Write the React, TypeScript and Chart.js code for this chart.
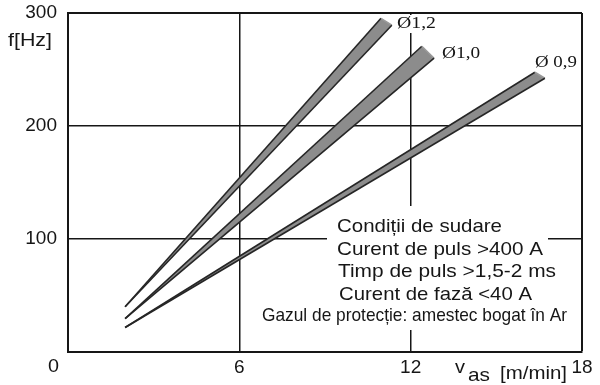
import React, { useEffect, useRef } from 'react';
import { Chart, registerables } from 'chart.js';

Chart.register(...registerables);

// ---- data ----
const bandNames = ['Ø1,2', 'Ø1,0', 'Ø 0,9'];
const startSpeed = [2.0, 2.0, 2.0];
const startFreq = [40.0, 29.6, 21.7];
const upperEndSpeed = [10.96, 12.39, 16.35];
const upperEndFreq = [295.3, 270.6, 247.6];
const lowerEndSpeed = [11.34, 12.82, 16.7];
const lowerEndFreq = [289.2, 260.0, 242.3];
// label anchors (left, baseline) in data units
const labelSpeed = [11.52, 13.1, 16.35];
const labelFreq = [286.4, 259.9, 252.0];

const xTicks = [0, 6, 12, 18];
const yTicks = [0, 100, 200, 300];
const yTitle = 'f[Hz]';
const xTitleMain = 'v';
const xTitleSub = 'as';
const xTitleUnit = '[m/min]';
const conditionLines = [
  'Condiții de sudare',
  'Curent de puls >400 A',
  'Timp de puls >1,5-2 ms',
  'Curent de fază <40 A',
  'Gazul de protecție: amestec bogat în Ar',
];

const SANS = '"Liberation Sans", Arial, sans-serif';
const SERIF = '"Liberation Serif", "Times New Roman", serif';
const INK = '#161616';
const BAND_FILL = '#8c8c8c';
const BAND_EDGE = '#262626';

function drawFit(
  ctx: CanvasRenderingContext2D,
  text: string,
  x: number,
  baseline: number,
  width: number,
  font: string
) {
  ctx.save();
  ctx.font = font;
  const w = ctx.measureText(text).width || 1;
  ctx.translate(x, baseline);
  ctx.scale(width / w, 1);
  ctx.textAlign = 'left';
  ctx.textBaseline = 'alphabetic';
  ctx.fillStyle = INK;
  ctx.fillText(text, 0, 0);
  ctx.restore();
}

const decorPlugin = {
  id: 'decor',
  beforeDatasetsDraw(chart: any) {
    const ctx: CanvasRenderingContext2D = chart.ctx;
    ctx.save();
    ctx.fillStyle = '#ffffff';
    // gap in grid lines behind condition text
    ctx.fillRect(327, 206, 221, 124);
    // gap behind the top diameter label
    ctx.fillRect(396, 15, 44, 18);
    ctx.restore();
  },
  beforeDatasetDraw(chart: any, args: any) {
    // fill each band (closed outline) from the points the library placed
    const ctx: CanvasRenderingContext2D = chart.ctx;
    const pts = chart.getDatasetMeta(args.index).data;
    if (!pts || !pts.length) return;
    ctx.save();
    ctx.beginPath();
    pts.forEach((p: any, i: number) => (i ? ctx.lineTo(p.x, p.y) : ctx.moveTo(p.x, p.y)));
    ctx.closePath();
    ctx.fillStyle = BAND_FILL;
    ctx.fill();
    ctx.restore();
  },
  afterDraw(chart: any) {
    const ctx: CanvasRenderingContext2D = chart.ctx;
    const xs = chart.scales.x;
    const ys = chart.scales.y;
    const widths = [39, 38, 42];
    bandNames.forEach((name, i) => {
      const px = xs.getPixelForValue(labelSpeed[i]);
      const py = ys.getPixelForValue(labelFreq[i]);
      drawFit(ctx, name, px, py, widths[i], `17px ${SERIF}`);
    });
    const rows = [
      [337, 232, 165],
      [337, 255, 206],
      [338, 277, 218],
      [339, 300, 193],
      [262, 321, 305],
    ];
    conditionLines.forEach((t, i) => {
      const [x, b, w] = rows[i];
      drawFit(ctx, t, x, b, w, `19px ${SANS}`);
    });
    drawFit(ctx, yTitle, 8, 46, 44, `19px ${SANS}`);
    drawFit(ctx, xTitleMain, 455, 373, 10, `19px ${SANS}`);
    drawFit(ctx, xTitleSub, 468, 381, 22, `19px ${SANS}`);
    drawFit(ctx, xTitleUnit, 500, 379, 67, `19px ${SANS}`);
    drawFit(ctx, '0', 48, 372, 11, `19px ${SANS}`);
  },
};

export default function App() {
  const ref = useRef<HTMLCanvasElement | null>(null);

  useEffect(() => {
    document.body.style.margin = '0';
    if (!ref.current) return;
    const datasets = bandNames.map((name, i) => ({
      label: name,
      data: [
        { x: startSpeed[i], y: startFreq[i] },
        { x: upperEndSpeed[i], y: upperEndFreq[i] },
        { x: lowerEndSpeed[i], y: lowerEndFreq[i] },
        { x: startSpeed[i], y: startFreq[i] },
      ],
      borderColor: BAND_EDGE,
      borderWidth: 1.6,
      backgroundColor: BAND_FILL,
      fill: false,
      pointRadius: 0,
      tension: 0,
      segment: {
        borderColor: (c: any) => (c.p0DataIndex === 1 ? '#9a9a9a' : undefined),
      },
    }));

    const tickFont = { family: SANS, size: 19 };
    const chart = new Chart(ref.current, {
      type: 'line',
      data: { datasets } as any,
      options: {
        animation: false,
        responsive: false,
        maintainAspectRatio: false,
        layout: { padding: { top: 13, right: 18, left: 0, bottom: 0 } },
        plugins: { legend: { display: false }, tooltip: { enabled: false } },
        scales: {
          x: {
            type: 'linear',
            min: 0,
            max: 18,
            afterFit: (s: any) => {
              s.height = 33;
              s.paddingLeft = 0;
              s.paddingRight = 0;
            },
            afterBuildTicks: (s: any) => {
              s.ticks = xTicks.map((v) => ({ value: v }));
            },
            grid: {
              color: INK,
              lineWidth: (c: any) => (c.tick && c.tick.value === 18 ? 2 : 1.5),
              drawTicks: false,
            },
            border: { color: INK, width: 2 },
            ticks: {
              font: tickFont,
              color: INK,
              padding: 4,
              maxRotation: 0,
              callback: (v: any) => (v === 0 ? '' : String(v)),
            },
          },
          y: {
            type: 'linear',
            min: 0,
            max: 300,
            afterFit: (s: any) => {
              s.width = 68;
              s.paddingTop = 0;
              s.paddingBottom = 0;
            },
            afterBuildTicks: (s: any) => {
              s.ticks = yTicks.map((v) => ({ value: v }));
            },
            grid: {
              color: INK,
              lineWidth: (c: any) => (c.tick && c.tick.value === 300 ? 2 : 1.5),
              drawTicks: false,
            },
            border: { color: INK, width: 2 },
            ticks: {
              font: tickFont,
              color: INK,
              padding: 11,
              callback: (v: any) => (v === 0 ? '' : String(v)),
            },
          },
        },
      } as any,
      plugins: [decorPlugin],
    });
    return () => chart.destroy();
  }, []);

  return (
    <div style={{ position: 'absolute', left: 0, top: 0, width: 600, height: 385, background: '#fff' }}>
      <canvas ref={ref} width={600} height={385} style={{ width: 600, height: 385 }} />
    </div>
  );
}
